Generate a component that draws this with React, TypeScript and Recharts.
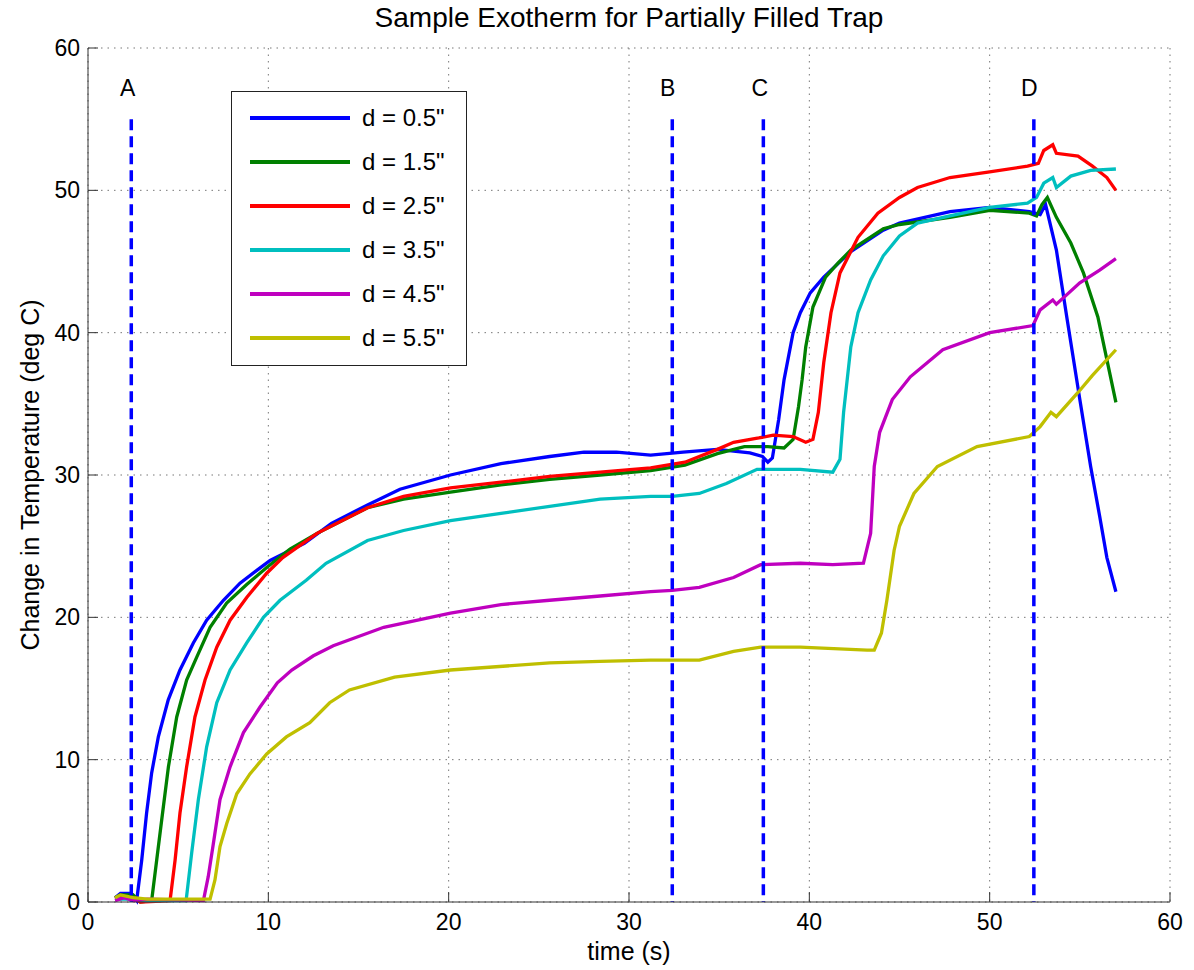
import {
  LineChart,
  Line,
  XAxis,
  YAxis,
  CartesianGrid,
  Legend,
  ReferenceLine,
  ReferenceDot,
} from 'recharts'

const FONT = '"Liberation Sans", Arial, Helvetica, sans-serif'

const title = 'Sample Exotherm for Partially Filled Trap'
const xLabel = 'time (s)'
const yLabel = 'Change in Temperature (deg C)'

const xTicks = [0, 10, 20, 30, 40, 50, 60]
const yTicks = [0, 10, 20, 30, 40, 50, 60]

// event markers A-D (dashed blue verticals)
const markerNames = ['A', 'B', 'C', 'D']
const markerTimes = [2.4, 32.4, 37.45, 52.45]
const markerLabelTimes = [2.2, 32.15, 37.25, 52.2]
const markerTop = 55
const markerLabelLevel = 57.2

const seriesNames = ['d = 0.5"', 'd = 1.5"', 'd = 2.5"', 'd = 3.5"', 'd = 4.5"', 'd = 5.5"']
const seriesColors = ['#0000ff', '#008000', '#ff0000', '#00bfbf', '#bf00bf', '#bfbf00']

// [time (s), delta T (deg C)]
const d05 = [
  [1.5, 0.3], [1.8, 0.6], [2.4, 0.6], [2.7, 0.1], [2.98, 2.95], [3.25, 6.25], [3.53, 9.07],
  [3.9, 11.6], [4.45, 14.2], [5.1, 16.3], [5.84, 18.2], [6.58, 19.8], [7.51, 21.2], [8.43, 22.4],
  [9.36, 23.3], [10.1, 24.0], [12, 25.2], [13.5, 26.6], [15.5, 27.9], [17.3, 29.0], [20.1, 30.0],
  [22.9, 30.8], [25.6, 31.3], [27.5, 31.6], [29.3, 31.6], [31.2, 31.4], [33, 31.6], [34.9, 31.8],
  [36.7, 31.55], [37.4, 31.3], [37.7, 30.9], [37.95, 31.2], [38.3, 33.9], [38.6, 36.7], [39.1, 40.0],
  [39.5, 41.4], [40.05, 42.8], [40.8, 43.9], [42.3, 45.7], [44.1, 47.2], [45, 47.7], [47.8, 48.5],
  [50, 48.8], [52.2, 48.5], [52.8, 48.3], [53.1, 49.0], [53.7, 45.8], [54.3, 40.9], [55, 35.3],
  [55.6, 30.6], [56.1, 27.1], [56.5, 24.2], [57, 21.8],
]
const d15 = [
  [1.5, 0.3], [1.8, 0.5], [2.5, 0.5], [2.9, 0], [3.53, 0.1], [3.81, 2.95], [4.09, 5.8], [4.46, 9.5],
  [4.92, 13.0], [5.47, 15.6], [6.03, 17.2], [6.77, 19.3], [7.69, 21.0], [8.8, 22.3], [9.91, 23.5],
  [11.2, 24.8], [12.7, 25.9], [15.5, 27.7], [17.5, 28.3], [20.1, 28.8], [22.9, 29.3], [25.6, 29.7],
  [28.4, 30.0], [31.2, 30.3], [33.1, 30.7], [34.9, 31.5], [36.4, 32.0], [37.7, 32.0], [38.6, 31.9],
  [39.1, 32.5], [39.4, 34.8], [39.6, 36.7], [39.8, 39.0], [40.2, 41.8], [40.9, 43.9], [41.6, 44.9],
  [42.3, 45.8], [44.1, 47.3], [45, 47.6], [47.8, 48.1], [50, 48.6], [52.2, 48.4], [52.6, 48.2],
  [52.9, 49.0], [53.2, 49.5], [53.7, 48.1], [54.5, 46.3], [55.2, 44.2], [56, 41.1], [56.5, 38.1],
  [57, 35.1],
]
const d25 = [
  [1.5, 0.2], [1.9, 0.4], [2.5, 0.3], [2.9, 0], [4.55, 0.1], [4.83, 2.95], [5.1, 6.25], [5.47, 9.5],
  [5.93, 13.0], [6.49, 15.6], [7.14, 17.9], [7.88, 19.8], [8.8, 21.4], [9.91, 23.1], [10.8, 24.2],
  [12.7, 25.9], [15.5, 27.7], [17.5, 28.5], [20.1, 29.1], [22.9, 29.5], [25.6, 29.9], [28.4, 30.2],
  [31.2, 30.5], [33.1, 30.9], [34.9, 31.8], [35.8, 32.3], [37.2, 32.6], [38, 32.8], [39.1, 32.7],
  [39.8, 32.3], [40.2, 32.5], [40.5, 34.4], [40.8, 37.9], [41.2, 41.4], [41.7, 44.2], [42.7, 46.7],
  [43.8, 48.4], [45, 49.5], [46, 50.2], [47.8, 50.9], [50, 51.3], [52.1, 51.7], [52.7, 51.9],
  [53, 52.8], [53.5, 53.2], [53.7, 52.6], [54.9, 52.4], [55.7, 51.7], [56.5, 50.9], [57, 50.0],
]
const d35 = [
  [1.5, 0.2], [2.5, 0.2], [3.2, 0.1], [5.44, 0.1], [5.75, 3.45], [6.12, 7.2], [6.58, 10.9],
  [7.14, 14.0], [7.88, 16.3], [8.8, 18.2], [9.73, 20.0], [10.65, 21.2], [12.1, 22.6], [13.2, 23.8],
  [15.5, 25.4], [17.5, 26.1], [20.1, 26.8], [22.9, 27.3], [25.6, 27.8], [28.4, 28.3], [31.2, 28.5],
  [32.4, 28.5], [33.9, 28.7], [35.4, 29.4], [37.1, 30.4], [39.5, 30.4], [41.3, 30.2], [41.7, 31.1],
  [41.9, 34.4], [42.3, 39.0], [42.7, 41.4], [43.4, 43.7], [44.1, 45.4], [45, 46.8], [46, 47.7],
  [47.8, 48.2], [50, 48.8], [52.1, 49.1], [52.6, 49.5], [53, 50.5], [53.5, 50.9], [53.7, 50.2],
  [54.5, 51.0], [55.6, 51.4], [57, 51.5],
]
const d45 = [
  [1.5, 0.1], [2.0, 0.3], [2.5, 0.1], [3.3, 0.2], [6.4, 0.1], [6.67, 1.8], [6.95, 4.1], [7.32, 7.2],
  [7.88, 9.5], [8.62, 11.9], [9.54, 13.7], [10.5, 15.4], [11.3, 16.3], [12.5, 17.3], [13.6, 18.0],
  [16.4, 19.3], [20.1, 20.3], [22.9, 20.9], [25.6, 21.2], [28.4, 21.5], [31.2, 21.8], [32.4, 21.9],
  [33.9, 22.1], [35.8, 22.8], [37.3, 23.7], [39.5, 23.8], [41.3, 23.7], [43.0, 23.8], [43.4, 25.9],
  [43.6, 30.6], [43.9, 33.0], [44.6, 35.3], [45.6, 36.9], [47.4, 38.8], [50, 40.0], [52.4, 40.5],
  [52.8, 41.6], [53.5, 42.3], [53.7, 42.0], [55, 43.5], [56.1, 44.4], [57, 45.2],
]
const d55 = [
  [1.5, 0.3], [1.8, 0.5], [2.5, 0.3], [3.3, 0.2], [6.77, 0.2], [7.04, 1.55], [7.32, 3.9], [7.69, 5.5],
  [8.25, 7.6], [8.98, 9.0], [9.91, 10.4], [11.0, 11.6], [12.3, 12.6], [13.4, 14.0], [14.5, 14.9],
  [17, 15.8], [20.1, 16.3], [25.6, 16.8], [28.4, 16.9], [31.2, 17.0], [33.9, 17.0], [35.8, 17.6],
  [37.3, 17.9], [39.5, 17.9], [43.2, 17.7], [43.6, 17.7], [44, 18.9], [44.3, 21.2], [44.7, 24.7],
  [45, 26.4], [45.8, 28.7], [47.1, 30.6], [49.3, 32.0], [52.2, 32.7], [52.8, 33.4], [53.4, 34.4],
  [53.7, 34.1], [54.9, 35.8], [55.7, 37.0], [57, 38.8],
]

const seriesData = [d05, d15, d25, d35, d45, d55].map((pts) =>
  pts.map(([time, temp]) => ({ time, temp }))
)

function LegendBox({ payload }: any) {
  return (
    <div
      style={{
        width: 236,
        height: 275,
        boxSizing: 'border-box',
        border: '1.5px solid #222',
        background: '#fff',
        paddingTop: 4,
        fontFamily: FONT,
      }}
    >
      {(payload ?? []).map((entry: any) => (
        <div key={entry.value} style={{ display: 'flex', alignItems: 'center', height: 44 }}>
          <div style={{ width: 100, height: 4, marginLeft: 18, background: entry.color }} />
          <span style={{ marginLeft: 12, fontSize: 24, color: '#000', lineHeight: 1 }}>
            {entry.value}
          </span>
        </div>
      ))}
    </div>
  )
}

export default function App() {
  const axisColor = '#333'
  return (
    <div style={{ position: 'absolute', left: 0, top: 0, width: 1194, height: 970, background: '#fff' }}>
      <div
        style={{
          position: 'absolute',
          left: 88,
          top: 4,
          width: 1082,
          textAlign: 'center',
          fontFamily: FONT,
          fontSize: 28,
          lineHeight: 1,
          color: '#000',
          zIndex: 1,
        }}
      >
        {title}
      </div>
      <LineChart
        width={1194}
        height={970}
        margin={{ top: 48, right: 24, bottom: 8, left: 18 }}
        style={{ fontFamily: FONT }}
      >
        <CartesianGrid stroke="#777" strokeDasharray="1.5 5" />
        <XAxis
          dataKey="time"
          type="number"
          domain={[0, 60]}
          ticks={xTicks}
          height={60}
          stroke={axisColor}
          tickSize={-10}
          tickMargin={22}
          tick={{ fontSize: 23, fill: '#000', fontFamily: FONT }}
          label={{ value: xLabel, position: 'insideBottom', offset: 2, fontSize: 25, fill: '#000', fontFamily: FONT }}
        />
        <XAxis
          xAxisId="top"
          orientation="top"
          type="number"
          domain={[0, 60]}
          ticks={xTicks}
          height={0}
          stroke={axisColor}
          tickSize={-10}
          tick={false}
        />
        <YAxis
          type="number"
          domain={[0, 60]}
          ticks={yTicks}
          width={70}
          stroke={axisColor}
          tickSize={-10}
          tickMargin={18}
          tick={{ fontSize: 23, fill: '#000', fontFamily: FONT }}
          label={{
            content: (props: any) => {
              const vb = props.viewBox
              const cx = vb.x + 21
              const cy = vb.y + vb.height / 2
              return (
                <text
                  x={cx}
                  y={cy}
                  transform={`rotate(-90 ${cx} ${cy})`}
                  textAnchor="middle"
                  fontSize={25}
                  fontFamily={FONT}
                  fill="#000"
                >
                  {yLabel}
                </text>
              )
            },
          }}
        />
        <YAxis
          yAxisId="right"
          orientation="right"
          type="number"
          domain={[0, 60]}
          ticks={yTicks}
          width={0}
          stroke={axisColor}
          tickSize={-10}
          tick={false}
        />
        {seriesNames.map((name, i) => (
          <Line
            key={name}
            data={seriesData[i]}
            dataKey="temp"
            name={name}
            type="linear"
            stroke={seriesColors[i]}
            strokeWidth={3.3}
            dot={false}
            activeDot={false}
            isAnimationActive={false}
          />
        ))}
        {markerTimes.map((t, i) => (
          <ReferenceLine
            key={markerNames[i]}
            segment={[
              { x: t, y: markerTop },
              { x: t, y: 0 },
            ]}
            stroke="#0000ff"
            strokeWidth={3.5}
            strokeDasharray="11 6"
          />
        ))}
        {markerLabelTimes.map((t, i) => (
          <ReferenceDot
            key={'lbl' + markerNames[i]}
            x={t}
            y={markerLabelLevel}
            r={1}
            fill="none"
            stroke="none"
            label={{ value: markerNames[i], position: 'center', fontSize: 23, fill: '#000', fontFamily: FONT }}
          />
        ))}
        <Legend
          layout="horizontal"
          verticalAlign="middle"
          align="center"
          width={236}
          wrapperStyle={{ left: 231, top: 91, width: 236, height: 275 }}
          content={(props: any) => <LegendBox {...props} />}
        />
      </LineChart>
    </div>
  )
}
